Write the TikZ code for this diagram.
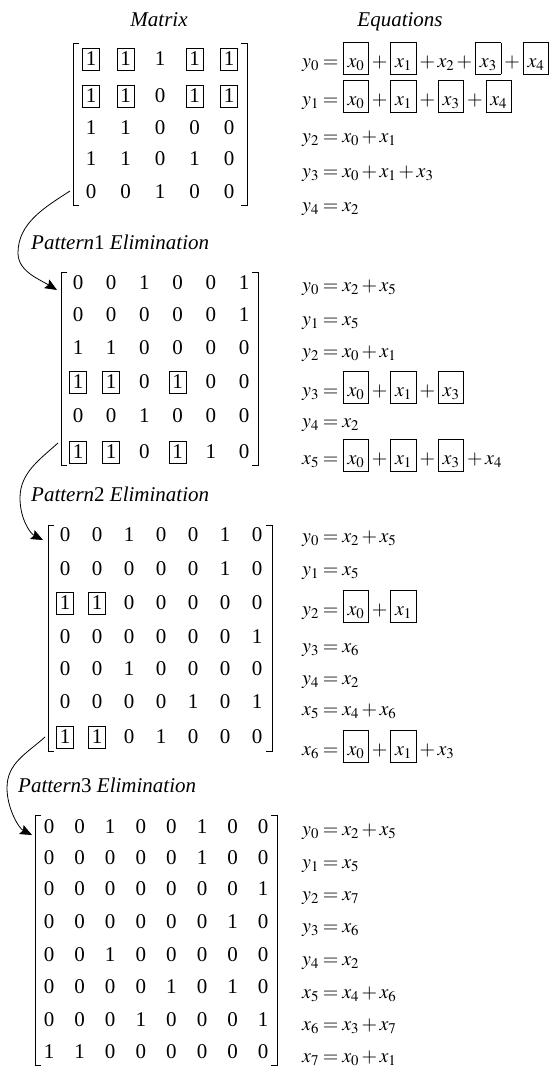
\documentclass[tikz,border=0pt]{standalone}
\usepackage{mathptmx}
\usepackage[no-math]{fontspec}
\setmainfont{Liberation Serif}
\usetikzlibrary{arrows.meta}
\medmuskip=2.2mu\relax
\thickmuskip=3.5mu\relax
\newcommand\bx[1]{{\kern0.5pt\setlength\fboxsep{0pt}\setlength\fboxrule{0.7pt}\fbox{\vrule height 24pt depth 7pt width 0pt\kern 4pt$#1$\kern 4pt}\kern0.5pt}}
\newcommand\mymat[5]{%
  \foreach \r [count=\i] in {#5} {
    \pgfmathsetmacro\yy{{#4}[\i-1]}
    \foreach \v [count=\j] in \r {
      \pgfmathsetmacro\xx{#2+(\j-1)*#3}
      \if\v B
        \node[cellbox] (#1-\i-\j) at (\xx,-\yy) {1};
      \else
        \node[cell] (#1-\i-\j) at (\xx,-\yy) {\v};
      \fi
    }
  }
}
\newcommand\mybrk[5]{%
  \coordinate (#1-tl) at (#2,-#4);
  \coordinate (#1-bl) at (#2,-#5);
  \coordinate (#1-tr) at (#3,-#4);
  \coordinate (#1-br) at (#3,-#5);
  \draw[brk] ([xshift=6pt]#1-tl) -- (#1-tl) -- (#1-bl) -- ([xshift=6pt]#1-bl);
  \draw[brk] ([xshift=-6pt]#1-tr) -- (#1-tr) -- (#1-br) -- ([xshift=-6pt]#1-br);
}
\begin{document}
\begin{tikzpicture}[x=1pt,y=1pt,font=\fontsize{21}{25}\selectfont,
  cell/.style={inner sep=0pt},
  cellbox/.style={draw,line width=0.7pt,inner xsep=3.2pt,inner ysep=4pt},
  brk/.style={line width=0.9pt},
  flow/.style={-{Stealth[length=12pt,width=10pt,inset=2pt]},line width=0.8pt},
  lbl/.style={anchor=base,inner sep=0pt},
  plbl/.style={anchor=base west,inner sep=0pt},
  eq/.style={anchor=base west,inner sep=0pt,font=\fontsize{20}{24}\selectfont}]
\useasboundingbox (0,0) rectangle (555,-1068);

% titles
\node[lbl] (tm) at (159,-27) {\textit{Matrix}};
\node[lbl] (te) at (400,-27) {\textit{Equations}};

% matrix 1
\mymat{m1}{91}{34.5}{59,96,128,159,192}{{B,B,1,B,B},{B,B,0,B,B},{1,1,0,0,0},{1,1,0,1,0},{0,0,1,0,0}}
\mybrk{m1}{73}{247}{43}{205}

% matrix 2
\mymat{m2}{78}{33.2}{283,315,348,382,416,452}{{0,0,1,0,0,1},{0,0,0,0,0,1},{1,1,0,0,0,0},{B,B,0,B,0,0},{0,0,1,0,0,0},{B,B,0,B,1,0}}
\mybrk{m2}{61}{258}{272}{465}

% matrix 3
\mymat{m3}{65}{32}{535,569,603,637,669,702,737}{{0,0,1,0,0,1,0},{0,0,0,0,0,1,0},{B,B,0,0,0,0,0},{0,0,0,0,0,0,1},{0,0,1,0,0,0,0},{0,0,0,0,1,0,1},{B,B,0,1,0,0,0}}
\mybrk{m3}{48}{272}{525}{751}

% matrix 4
\mymat{m4}{49}{30.6}{827,858,889,922,955,987,1020,1052}{{0,0,1,0,0,1,0,0},{0,0,0,0,0,1,0,0},{0,0,0,0,0,0,0,1},{0,0,0,0,0,0,1,0},{0,0,1,0,0,0,0,0},{0,0,0,0,1,0,1,0},{0,0,0,1,0,0,0,1},{1,1,0,0,0,0,0,0}}
\mybrk{m4}{35}{277}{815}{1065}

% pattern labels
\node[plbl] (p1) at (31,-249) {\textit{Pattern}1 \textit{Elimination}};
\node[plbl] (p2) at (31,-501) {\textit{Pattern}2 \textit{Elimination}};
\node[plbl] (p3) at (18,-792) {\textit{Pattern}3 \textit{Elimination}};

% arrows
\coordinate (a1s) at (70,-191); \coordinate (a1m) at (18,-253); \coordinate (a1e) at (57,-290);
\coordinate (a2s) at (58,-443); \coordinate (a2m) at (20,-498); \coordinate (a2e) at (43,-540);
\coordinate (a3s) at (45,-737); \coordinate (a3m) at (7,-788); \coordinate (a3e) at (32,-835);
\draw[flow] (a1s) .. controls +(213:30) and +(90:30) .. (a1m) .. controls +(270:18) and +(149:22) .. (a1e);
\draw[flow] (a2s) .. controls +(222:25) and +(90:25) .. (a2m) .. controls +(270:20) and +(153:15) .. (a2e);
\draw[flow] (a3s) .. controls +(222:25) and +(90:25) .. (a3m) .. controls +(270:20) and +(153:15) .. (a3e);

% equations group 1
\node[eq] (e1a) at (302,-67) {$y_0 = \bx{x_0} + \bx{x_1} + x_2 + \bx{x_3} + \bx{x_4}$};
\node[eq] (e1b) at (302,-105) {$y_1 = \bx{x_0} + \bx{x_1} + \bx{x_3} + \bx{x_4}$};
\node[eq] (e1c) at (302,-142) {$y_2 = x_0 + x_1$};
\node[eq] (e1d) at (302,-177) {$y_3 = x_0 + x_1 + x_3$};
\node[eq] (e1e) at (302,-211) {$y_4 = x_2$};

% equations group 2
\node[eq] (e2a) at (302,-291) {$y_0 = x_2 + x_5$};
\node[eq] (e2b) at (302,-325) {$y_1 = x_5$};
\node[eq] (e2c) at (302,-357) {$y_2 = x_0 + x_1$};
\node[eq] (e2d) at (302,-396) {$y_3 = \bx{x_0} + \bx{x_1} + \bx{x_3}$};
\node[eq] (e2e) at (302,-427) {$y_4 = x_2$};
\node[eq] (e2f) at (302,-464) {$x_5 = \bx{x_0} + \bx{x_1} + \bx{x_3} + x_4$};

% equations group 3
\node[eq] (e3a) at (302,-542) {$y_0 = x_2 + x_5$};
\node[eq] (e3b) at (302,-575) {$y_1 = x_5$};
\node[eq] (e3c) at (302,-615) {$y_2 = \bx{x_0} + \bx{x_1}$};
\node[eq] (e3d) at (302,-652) {$y_3 = x_6$};
\node[eq] (e3e) at (302,-684) {$y_4 = x_2$};
\node[eq] (e3f) at (302,-715) {$x_5 = x_4 + x_6$};
\node[eq] (e3g) at (302,-755) {$x_6 = \bx{x_0} + \bx{x_1} + x_3$};

% equations group 4
\node[eq] (e4a) at (302,-835) {$y_0 = x_2 + x_5$};
\node[eq] (e4b) at (302,-868) {$y_1 = x_5$};
\node[eq] (e4c) at (302,-900) {$y_2 = x_7$};
\node[eq] (e4d) at (302,-932) {$y_3 = x_6$};
\node[eq] (e4e) at (302,-965) {$y_4 = x_2$};
\node[eq] (e4f) at (302,-998) {$x_5 = x_4 + x_6$};
\node[eq] (e4g) at (302,-1030) {$x_6 = x_3 + x_7$};
\node[eq] (e4h) at (302,-1062) {$x_7 = x_0 + x_1$};
\end{tikzpicture}
\end{document}
